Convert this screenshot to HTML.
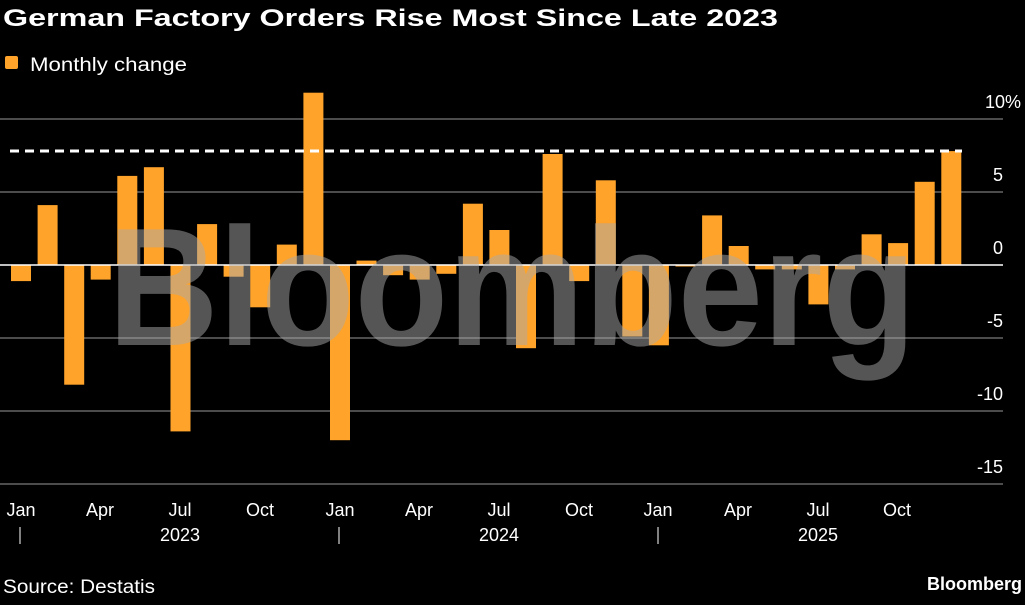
<!DOCTYPE html>
<html><head><meta charset="utf-8"><style>
body{margin:0;background:#000;width:1025px;height:600px;overflow:hidden;font-family:"Liberation Sans",sans-serif;}
</style></head><body>
<svg width="1025" height="600" xmlns="http://www.w3.org/2000/svg" font-family="Liberation Sans, sans-serif">
<rect width="1025" height="600" fill="#000"/>
<text x="3" y="26" fill="#fff" font-size="24" font-weight="bold" textLength="775" lengthAdjust="spacingAndGlyphs">German Factory Orders Rise Most Since Late 2023</text>
<rect x="5" y="56" width="13" height="13" rx="2" fill="#ffa32b"/>
<text x="30" y="71" fill="#fff" font-size="19" textLength="157" lengthAdjust="spacingAndGlyphs">Monthly change</text>
<g stroke="#666" stroke-width="1.5">
<line x1="0" x2="1003" y1="119" y2="119"/>
<line x1="0" x2="1003" y1="192" y2="192"/>
<line x1="0" x2="1003" y1="338" y2="338"/>
<line x1="0" x2="1003" y1="411" y2="411"/>
<line x1="0" x2="1003" y1="484" y2="484"/>
</g>
<g fill="#fff" font-size="18" text-anchor="end">
<text x="1021" y="108">10%</text>
<text x="1003" y="181">5</text>
<text x="1003" y="254">0</text>
<text x="1003" y="327">-5</text>
<text x="1003" y="400">-10</text>
<text x="1003" y="473">-15</text>
</g>
<g fill="#ffa32b">
<rect x="11.0" y="265" width="20" height="16.1"/>
<rect x="37.6" y="205.1" width="20" height="59.9"/>
<rect x="64.2" y="265" width="20" height="119.7"/>
<rect x="90.7" y="265" width="20" height="14.6"/>
<rect x="117.3" y="175.9" width="20" height="89.1"/>
<rect x="143.9" y="167.2" width="20" height="97.8"/>
<rect x="170.5" y="265" width="20" height="166.4"/>
<rect x="197.1" y="224.1" width="20" height="40.9"/>
<rect x="223.6" y="265" width="20" height="11.7"/>
<rect x="250.2" y="265" width="20" height="42.3"/>
<rect x="276.8" y="244.6" width="20" height="20.4"/>
<rect x="303.4" y="92.7" width="20" height="172.3"/>
<rect x="330.0" y="265" width="20" height="175.2"/>
<rect x="356.5" y="260.6" width="20" height="4.4"/>
<rect x="383.1" y="265" width="20" height="10.2"/>
<rect x="409.7" y="265" width="20" height="14.6"/>
<rect x="436.3" y="265" width="20" height="8.8"/>
<rect x="462.9" y="203.7" width="20" height="61.3"/>
<rect x="489.4" y="230" width="20" height="35"/>
<rect x="516.0" y="265" width="20" height="83.2"/>
<rect x="542.6" y="154" width="20" height="111"/>
<rect x="569.2" y="265" width="20" height="16.1"/>
<rect x="595.8" y="180.3" width="20" height="84.7"/>
<rect x="622.3" y="265" width="20" height="71.5"/>
<rect x="648.9" y="265" width="20" height="80.3"/>
<rect x="675.5" y="265" width="20" height="1.5"/>
<rect x="702.1" y="215.4" width="20" height="49.6"/>
<rect x="728.7" y="246" width="20" height="19"/>
<rect x="755.2" y="265" width="20" height="4.4"/>
<rect x="781.8" y="265" width="20" height="4.4"/>
<rect x="808.4" y="265" width="20" height="39.4"/>
<rect x="835.0" y="265" width="20" height="4.4"/>
<rect x="861.6" y="234.3" width="20" height="30.7"/>
<rect x="888.1" y="243.1" width="20" height="21.9"/>
<rect x="914.7" y="181.8" width="20" height="83.2"/>
<rect x="941.3" y="151.1" width="20" height="113.9"/>
</g>
<line x1="0" x2="1003" y1="265" y2="265" stroke="#fff" stroke-width="1.5"/>
<line x1="10" x2="962" y1="151" y2="151" stroke="#fff" stroke-width="3" stroke-dasharray="9,6"/>
<text x="108" y="345" fill="rgba(170,170,170,0.5)" font-size="168" font-weight="bold" textLength="808" lengthAdjust="spacingAndGlyphs">Bloomberg</text>
<g fill="#fff" font-size="18" text-anchor="middle">
<text x="21" y="516">Jan</text><text x="100" y="516">Apr</text><text x="180" y="516">Jul</text><text x="260" y="516">Oct</text>
<text x="340" y="516">Jan</text><text x="419" y="516">Apr</text><text x="499" y="516">Jul</text><text x="579" y="516">Oct</text>
<text x="658" y="516">Jan</text><text x="738" y="516">Apr</text><text x="818" y="516">Jul</text><text x="897" y="516">Oct</text>
<text x="180" y="541">2023</text><text x="499" y="541">2024</text><text x="818" y="541">2025</text>
</g>
<g stroke="#fff" stroke-width="1"><line x1="20" x2="20" y1="527" y2="544"/><line x1="339" x2="339" y1="527" y2="544"/><line x1="658" x2="658" y1="527" y2="544"/></g>
<text x="3" y="593" fill="#fff" font-size="19" textLength="152" lengthAdjust="spacingAndGlyphs">Source: Destatis</text>
<text x="1022" y="590" fill="#fff" font-size="18" font-weight="bold" text-anchor="end">Bloomberg</text>
</svg>
</body></html>
